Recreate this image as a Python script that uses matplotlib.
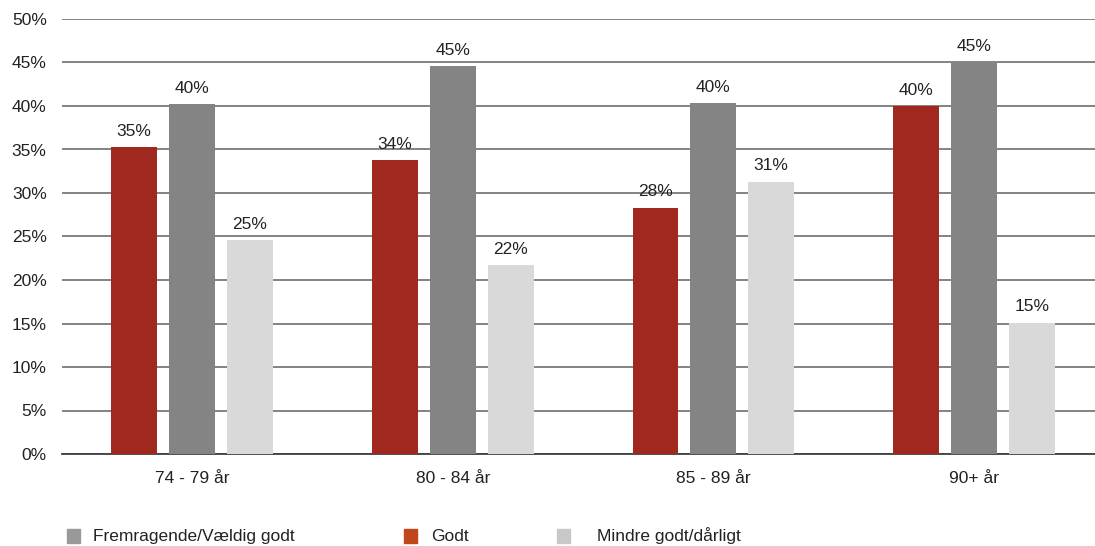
import numpy as np
import matplotlib.pyplot as plt
from matplotlib.patches import Rectangle

plt.rcParams['font.family'] = ['Liberation Sans', 'DejaVu Sans']

# Data
groups = ['74 - 79 år', '80 - 84 år', '85 - 89 år', '90+ år']
godt = [35.3, 33.8, 28.3, 40.0]
fremragende = [40.2, 44.6, 40.3, 45.0]
mindre = [24.6, 21.7, 31.3, 15.1]
godt_labels = ['35%', '34%', '28%', '40%']
frem_labels = ['40%', '45%', '40%', '45%']
mindre_labels = ['25%', '22%', '31%', '15%']

fs = 12.5

fig = plt.figure(figsize=(10.95, 5.46), dpi=100)
ax = fig.add_axes([62 / 1095, 1 - 454 / 546, 1 - 62 / 1095, (454 - 19) / 546])

x = np.arange(len(groups))
w = 0.176
off = 0.222
series = [
    (godt, godt_labels, '#a0281e', -off),
    (fremragende, frem_labels, '#848484', 0),
    (mindre, mindre_labels, '#d9d9d9', off),
]
for vals, labs, col, dx in series:
    bars = ax.bar(x + dx, vals, width=w, color=col, zorder=3)
    for b, lab in zip(bars, labs):
        ax.annotate(lab, (b.get_x() + b.get_width() / 2, b.get_height()),
                    xytext=(0, 6), textcoords='offset points',
                    ha='center', va='bottom', fontsize=fs, color='#222222')

ax.set_ylim(0, 50)
ax.set_xlim(-0.499, 3.464)
ax.set_yticks(np.arange(0, 51, 5))
ax.set_yticklabels([f'{v}%' for v in range(0, 51, 5)])
ax.set_xticks(x)
ax.set_xticklabels(groups)
ax.grid(axis='y', color='#7a7a7a', linewidth=1.3, zorder=0)
ax.tick_params(axis='both', length=0, labelsize=fs, colors='#222222')
ax.tick_params(axis='y', pad=11)
ax.tick_params(axis='x', pad=12)
for s in ['top', 'right', 'left']:
    ax.spines[s].set_visible(False)
ax.spines['bottom'].set_color('#404040')
ax.spines['bottom'].set_linewidth(1.3)

# Legend at the bottom
legend_items = [
    ('Fremragende/Vældig godt', '#999999', 67, 93),
    ('Godt', '#c0461c', 404, 431),
    ('Mindre godt/dårligt', '#c8c8c8', 557, 597),
]
yc = 1 - 536 / 546
for name, col, sx, tx in legend_items:
    fig.add_artist(Rectangle((sx / 1095, yc - 7 / 546), 13 / 1095, 14 / 546,
                             transform=fig.transFigure, color=col))
    fig.text(tx / 1095, yc - 5 / 546, name, fontsize=fs, va='baseline', ha='left',
             color='#222222')

fig.savefig('out.png', dpi=100)
